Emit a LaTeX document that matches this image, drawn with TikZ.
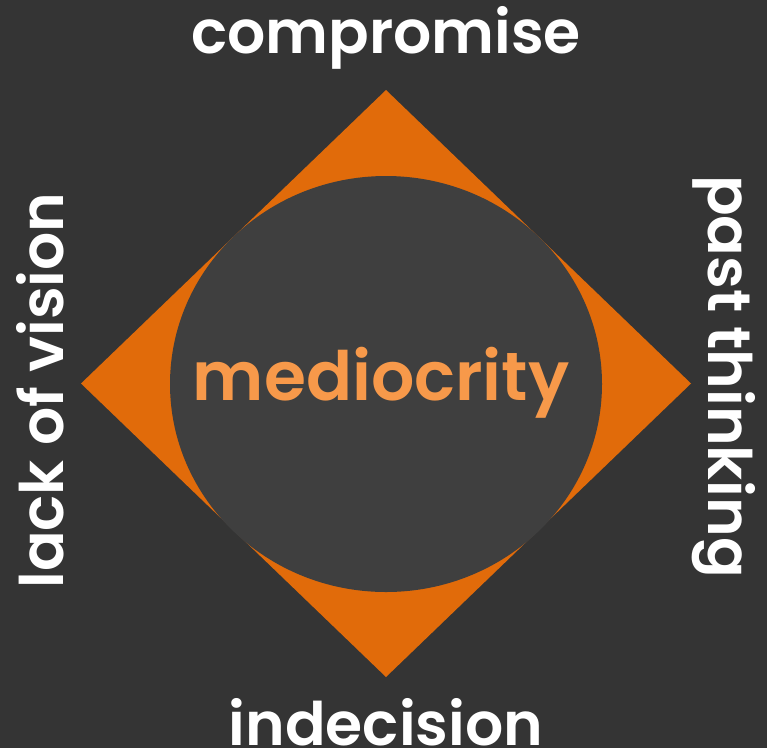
\documentclass[tikz,border=0pt]{standalone}
\usepackage{fontspec}
\setmainfont{Poppins}[BoldFont={Poppins SemiBold}]
\definecolor{bgc}{HTML}{343434}
\definecolor{diam}{HTML}{E16B0A}
\definecolor{circc}{HTML}{3F3F3F}
\definecolor{midtext}{HTML}{F7994A}
\begin{document}
\begin{tikzpicture}[x=1pt,y=-1pt,
  lbl/.style={text=white, inner sep=0pt, outer sep=0pt, anchor=base, font=\fontsize{60}{60}\selectfont\bfseries},
  midlbl/.style={text=midtext, inner sep=0pt, anchor=base, font=\fontsize{68}{68}\selectfont\bfseries}]
\fill[bgc] (0,0) rectangle (767,748);
\useasboundingbox (0,0) rectangle (767,748);
\coordinate (T) at (386,90);
\coordinate (R) at (691,383.5);
\coordinate (B) at (386,677);
\coordinate (L) at (81,383.5);
\coordinate (C) at (386,384);
\fill[diam] (T) -- (R) -- (B) -- (L) -- cycle;
\fill[circc] (C) ellipse [x radius=216, y radius=208];
\node[midlbl] (mid) at (381,400) {mediocrity};
\node[lbl] (top) at (386,53) {compromise};
\node[lbl] (bot) at (386,745) {indecision};
\node[lbl, rotate=90] (left) at (63,390.5) {lack of vision};
\node[lbl, rotate=-90] (right) at (708,376.5) {past thinking};
\end{tikzpicture}
\end{document}
